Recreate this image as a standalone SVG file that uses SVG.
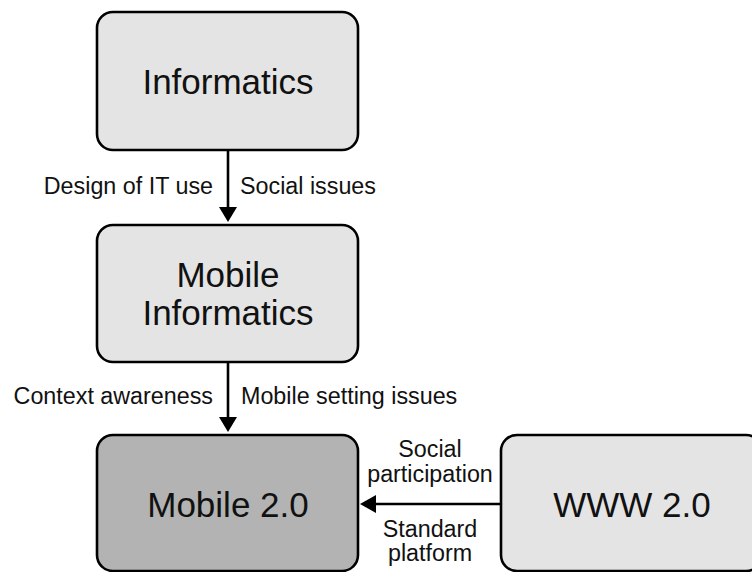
<svg xmlns="http://www.w3.org/2000/svg" width="752" height="572" viewBox="0 0 752 572">
  <style>
    .box { stroke: #000; stroke-width: 2.6; }
    .light { fill: #e4e4e4; }
    .dark { fill: #b3b3b3; }
    .title { font-family: "Liberation Sans", Arial, sans-serif; font-size: 35px; fill: #111; text-anchor: middle; }
    .label { font-family: "Liberation Sans", Arial, sans-serif; font-size: 23.3px; fill: #111; }
    .edge { stroke: #000; stroke-width: 2.6; fill: none; }
    .head { fill: #000; }
  </style>

  <rect width="752" height="572" fill="#ffffff"/>

  <!-- connectors -->
  <g id="connectors">
    <g id="informatics-to-mobile-informatics">
      <line class="edge" x1="228" y1="151" x2="228" y2="210"/>
      <polygon class="head" points="219,207 237,207 228,222"/>
      <text class="label" x="213" y="194" text-anchor="end">Design of IT use</text>
      <text class="label" x="240" y="194">Social issues</text>
    </g>
    <g id="mobile-informatics-to-mobile20">
      <line class="edge" x1="228" y1="363" x2="228" y2="420"/>
      <polygon class="head" points="219,417 237,417 228,432"/>
      <text class="label" x="213" y="404" text-anchor="end">Context awareness</text>
      <text class="label" x="241" y="404">Mobile setting issues</text>
    </g>
    <g id="www20-to-mobile20">
      <line class="edge" x1="500" y1="504" x2="372" y2="504"/>
      <polygon class="head" points="360,504 376,495 376,513"/>
      <text class="label" x="430" y="457" text-anchor="middle">Social</text>
      <text class="label" x="430" y="482" text-anchor="middle">participation</text>
      <text class="label" x="430" y="537" text-anchor="middle">Standard</text>
      <text class="label" x="430" y="561" text-anchor="middle">platform</text>
    </g>
  </g>

  <!-- nodes -->
  <g id="informatics">
    <rect class="box light" x="97" y="12" width="261" height="138" rx="16" ry="16"/>
    <text class="title" x="228" y="94">Informatics</text>
  </g>

  <g id="mobile-informatics">
    <rect class="box light" x="97" y="225" width="261" height="137" rx="16" ry="16"/>
    <text class="title" x="228" y="287">Mobile</text>
    <text class="title" x="228" y="325">Informatics</text>
  </g>

  <g id="mobile20">
    <rect class="box dark" x="97" y="435" width="261" height="136" rx="16" ry="16"/>
    <text class="title" x="228" y="517">Mobile 2.0</text>
  </g>

  <g id="www20">
    <rect class="box light" x="501" y="435" width="261" height="136" rx="16" ry="16"/>
    <text class="title" x="632" y="517">WWW 2.0</text>
  </g>
</svg>
